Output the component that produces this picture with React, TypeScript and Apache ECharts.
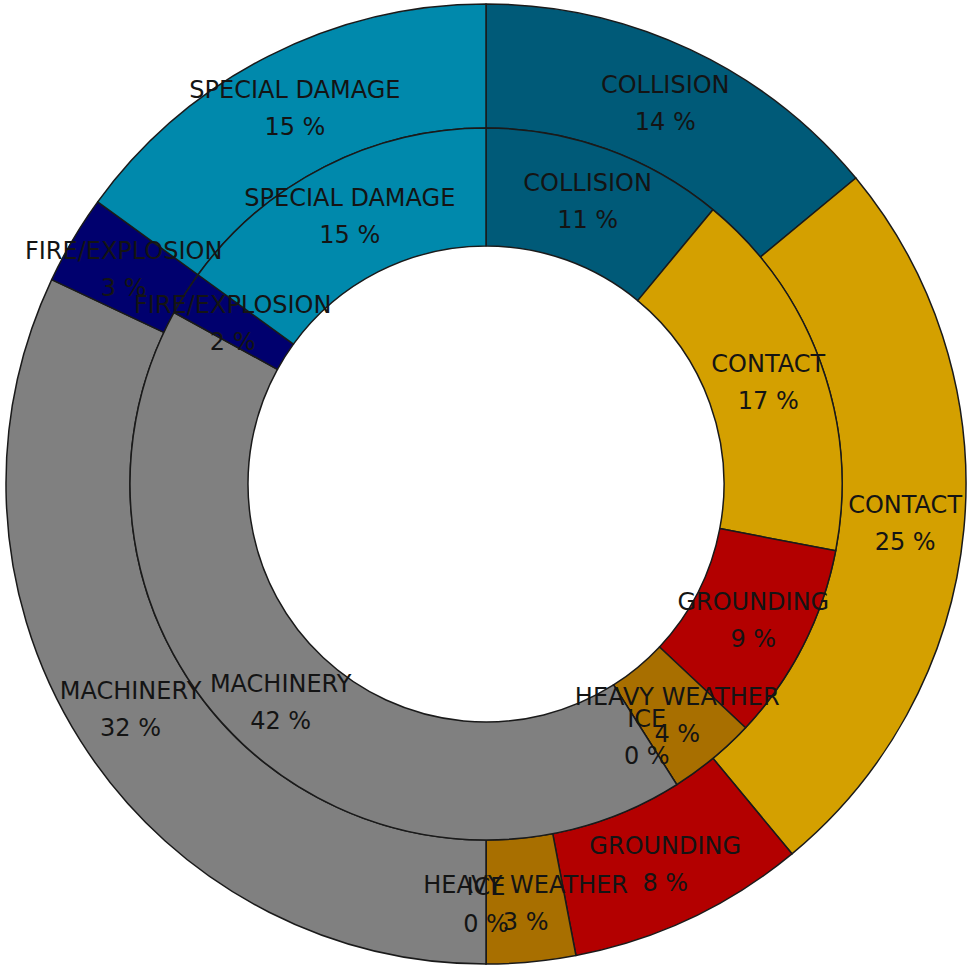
import React, { useEffect, useRef } from "react";
import * as echarts from "echarts";

const categories = [
  "COLLISION",
  "CONTACT",
  "GROUNDING",
  "HEAVY WEATHER",
  "ICE",
  "MACHINERY",
  "FIRE/EXPLOSION",
  "SPECIAL DAMAGE",
];
const outerValues = [14, 25, 8, 3, 0, 32, 3, 15];
const innerValues = [11, 17, 9, 4, 0, 42, 2, 15];
const colors = [
  "#005A78",
  "#D4A000",
  "#B30000",
  "#A86F00",
  "#7A9AB0",
  "#808080",
  "#00006E",
  "#0089AC",
];

const CX = 486;
const CY = 484;

function makeData(values: number[]) {
  return categories.map((name, i) => ({
    name,
    value: values[i],
    itemStyle: { color: colors[i] },
  }));
}

const labelStyle = {
  show: true,
  position: "inside" as const,
  formatter: "{b}\n{c} %",
  color: "#141414",
  fontFamily: "DejaVu Sans",
  fontSize: 24,
  lineHeight: 37,
  textBorderWidth: 0,
  align: "center" as const,
};

export default function App() {
  const ref = useRef<HTMLDivElement>(null);
  useEffect(() => {
    if (!ref.current) return;
    const chart = echarts.init(ref.current, undefined, { renderer: "svg" });
    const common = {
      type: "pie",
      center: [CX, CY],
      startAngle: 90,
      clockwise: true,
      avoidLabelOverlap: false,
      minShowLabelAngle: 0,
      itemStyle: { borderColor: "#1a1a1a", borderWidth: 1.5 },
      label: labelStyle,
      labelLine: { show: false },
      labelLayout: { hideOverlap: false },
      emphasis: { disabled: true },
    };
    chart.setOption({
      animation: false,
      backgroundColor: "#ffffff",
      series: [
        { ...common, radius: [356, 480], data: makeData(outerValues) },
        { ...common, radius: [238, 356], data: makeData(innerValues) },
      ],
    });
    return () => chart.dispose();
  }, []);
  return (
    <div
      ref={ref}
      style={{ position: "fixed", left: 0, top: 0, width: 967, height: 969 }}
    />
  );
}
